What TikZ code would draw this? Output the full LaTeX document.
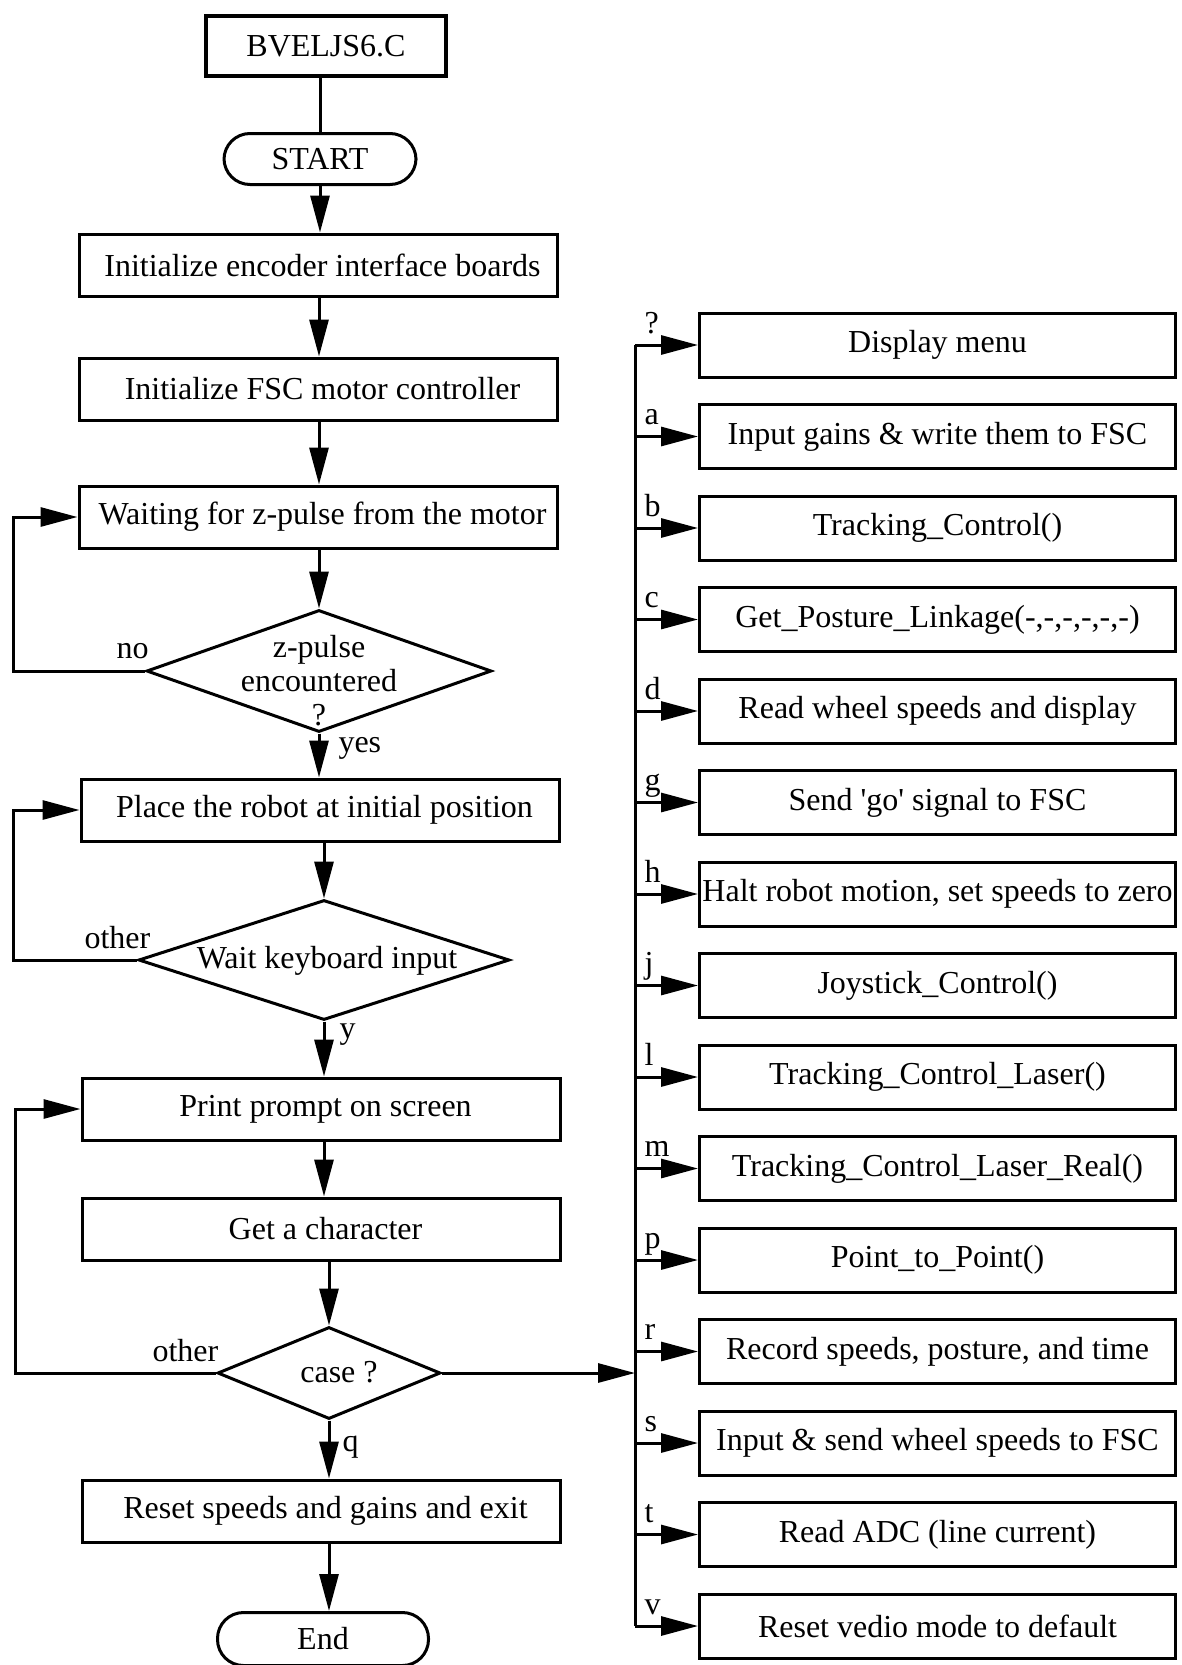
\documentclass[tikz,border=0pt]{standalone}
\usepackage{fontspec}
\setmainfont{Liberation Serif}
\usetikzlibrary{arrows.meta,shapes.geometric,calc}

\begin{document}
\begin{tikzpicture}[x=1pt,y=-1pt,
  font=\fontsize{32}{34}\selectfont,
  line width=3pt,
  arr/.style={-{Triangle[length=37pt,width=19pt]}},
  box/.style={draw,line width=3pt,minimum width=478pt,minimum height=62pt,inner sep=2pt,
    execute at begin node={\hspace*{9pt}}},
  rbox/.style={draw,line width=3pt,minimum width=476pt,minimum height=64pt,inner xsep=1pt},
  term/.style={draw,line width=3pt,rounded corners=26pt,minimum height=51pt,inner sep=0pt},
  dia/.style={draw,diamond,line width=3pt,inner sep=0pt},
  lbl/.style={anchor=base west,inner sep=0pt},
]
\useasboundingbox (0,0) rectangle (1181,1665);

% main column
\node[draw,line width=4.5pt,minimum width=240pt,minimum height=60pt] (title) at (326,46) {BVELJS6.C};
\node[term,minimum width=192pt] (start) at (320,159) {START};
\node[box] (enc)   at (318,265)  {Initialize encoder interface boards};
\node[box] (fsc)   at (318,389)  {Initialize FSC motor controller};
\node[box] (wait)  at (318,517)  {Waiting for z-pulse from the motor};
\node[dia,minimum width=345pt,minimum height=122pt] (d1) at (319,671) {};
\node[align=center] (d1t) at (319,681) {z-pulse\\encountered\\?};
\node[box] (place) at (320,810)  {Place the robot at initial position};
\node[dia,minimum width=371pt,minimum height=120pt] (d2) at (324,960) {};
\node (d2t) at (327,961) {Wait keyboard input};
\node[box] (print) at (321,1109) {Print prompt on screen};
\node[box] (getc)  at (321,1229) {Get a character};
\node[dia,minimum width=223pt,minimum height=92pt] (cs) at (329,1373) {};
\node (cst) at (339,1372) {case ?};
\node[box] (reset) at (321,1511) {Reset speeds and gains and exit};
\node[term,minimum width=211pt,minimum height=53pt] (endn) at (323,1639) {End};

% main flow
\draw (title.south -| start.north) -- (start.north);
\draw[arr] (start.south) -- (start.south |- enc.north);
\draw[arr] (enc.south -| d1.north) -- (fsc.north -| d1.north);
\draw[arr] (fsc.south -| d1.north) -- (wait.north -| d1.north);
\draw[arr] (wait.south -| d1.north) -- (d1.north);
\draw[arr] (d1.south) -- (place.north -| d1.south);
\draw[arr] (place.south -| d2.north) -- (d2.north);
\draw[arr] (d2.south) -- (print.north -| d2.south);
\draw[arr] (print.south -| d2.south) -- (getc.north -| d2.south);
\draw[arr] (getc.south -| cs.north) -- (cs.north);
\draw[arr] (cs.south) -- (reset.north -| cs.south);
\draw[arr] (reset.south -| cs.south) -- (endn.north -| cs.south);

% return loops
\coordinate (xa) at (13,0);
\coordinate (xb) at (15,0);
\draw[arr] (d1.west) -- (d1.west -| xa) |- (wait.west);
\draw[arr] (d2.west) -- (d2.west -| xa) |- (place.west);
\draw[arr] (cs.west) -- (cs.west -| xb) |- (print.west);

% branch labels
\node[lbl] at (115,658)  {no};
\node[lbl] at (337,752)  {yes};
\node[lbl] at (83,948)   {other};
\node[lbl] at (338,1038) {y};
\node[lbl] at (151,1361) {other};
\node[lbl] at (341,1451) {q};

% menu commands
\coordinate (bus) at (635,0);
\foreach \i/\k/\t in {
  1/?/{Display menu},
  2/a/{Input gains \& write them to FSC},
  3/b/{Tracking\_Control()},
  4/c/{Get\_Posture\_Linkage(-,-,-,-,-,-)},
  5/d/{Read wheel speeds and display},
  6/g/{Send \textquotesingle go\textquotesingle{} signal to FSC},
  7/h/{Halt robot motion, set speeds to zero},
  8/j/{Joystick\_Control()},
  9/l/{Tracking\_Control\_Laser()},
  10/m/{Tracking\_Control\_Laser\_Real()},
  11/p/{Point\_to\_Point()},
  12/r/{Record speeds, posture, and time},
  13/s/{Input \& send wheel speeds to FSC},
  14/t/{Read ADC (line current)},
  15/v/{Reset vedio mode to default}}{
  \node[rbox] (r\i) at (937.5,{345+91.5*(\i-1)}) {\t};
  \draw[arr] (r\i.west -| bus) -- (r\i.west);
  \node[lbl] (k\i) at ($(r\i.west -| bus)+(8,-12)$) {\k};
}
\draw (r1.west -| bus) -- (r15.west -| bus);
\draw[arr] (cs.east) -- (cs.east -| bus);

\end{tikzpicture}
\end{document}
